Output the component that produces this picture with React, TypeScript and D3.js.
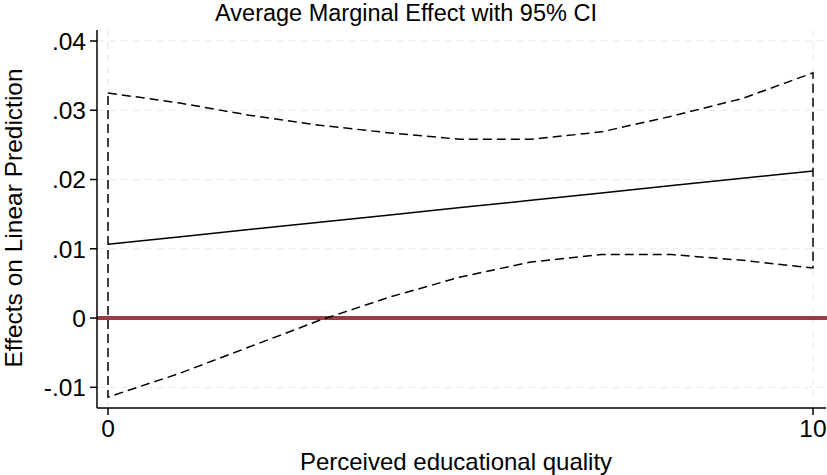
import * as d3 from "d3";

const xValues = [0, 1, 2, 3, 4, 5, 6, 7, 8, 9, 10];
const estimate = [0.01065, 0.01171, 0.01277, 0.01383, 0.01489, 0.01595, 0.017, 0.01806, 0.01912, 0.02018, 0.02124];
const upper = [0.0325, 0.03107, 0.02929, 0.02783, 0.02673, 0.0258, 0.0258, 0.02688, 0.02916, 0.0317, 0.0354];
const lower = [-0.01142, -0.00804, -0.00419, -0.00033, 0.00304, 0.00593, 0.00809, 0.00916, 0.00916, 0.00834, 0.00723];
const yTicks = [-0.01, 0, 0.01, 0.02, 0.03, 0.04];
const xTicks = [0, 10];

const W = 827;
const H = 475;
const font = "Arial, 'Liberation Sans', Helvetica, sans-serif";

const fmtY = (v: number) => {
  if (v === 0) return "0";
  const s = String(+v.toFixed(2));
  return s.replace("0.", ".");
};

export default function App() {
  const left = 97;
  const right = 826;
  const top = 30;
  const bottom = 408;

  const x = d3.scaleLinear().domain([0, 10]).range([108, 813]);
  const y = d3.scaleLinear().domain([-0.01, 0.04]).range([387.3, 41]);

  const line = d3
    .line<number>()
    .x((_d, i) => x(xValues[i]))
    .y((d) => y(d));

  // CI outline: upper band, down the right edge, back along the lower band
  const ciPts: [number, number][] = [
    ...upper.map((v, i) => [x(xValues[i]), y(v)] as [number, number]),
    ...lower
      .map((v, i) => [x(xValues[i]), y(v)] as [number, number])
      .reverse(),
  ];
  const ciPath = d3.line()(ciPts) + "Z";

  return (
    <svg
      width={W}
      height={H}
      style={{ position: "absolute", left: 0, top: 0, background: "#fff" }}
      fontFamily={font}
    >
      {/* grid */}
      {yTicks.map((t) => (
        <line
          key={"gy" + t}
          x1={left}
          x2={right}
          y1={y(t)}
          y2={y(t)}
          stroke="#e8e8e8"
          strokeWidth={1}
          strokeDasharray="7,5"
        />
      ))}
      {xTicks.map((t) => (
        <line
          key={"gx" + t}
          x1={x(t)}
          x2={x(t)}
          y1={top}
          y2={bottom}
          stroke="#e8e8e8"
          strokeWidth={1}
          strokeDasharray="7,5"
        />
      ))}

      {/* zero reference line */}
      <line
        x1={left}
        x2={W}
        y1={y(0)}
        y2={y(0)}
        stroke="#993d44"
        strokeWidth={4}
      />

      {/* confidence band */}
      <path
        d={ciPath}
        fill="none"
        stroke="#000"
        strokeWidth={1.5}
        strokeDasharray="9,5"
      />

      {/* estimate */}
      <path d={line(estimate) ?? ""} fill="none" stroke="#000" strokeWidth={1.5} />

      {/* axes */}
      <line x1={left} x2={left} y1={top} y2={bottom} stroke="#000" strokeWidth={1.5} />
      <line x1={left} x2={right} y1={bottom} y2={bottom} stroke="#000" strokeWidth={1.5} />
      {yTicks.map((t) => (
        <g key={"ty" + t}>
          <line x1={left - 7} x2={left} y1={y(t)} y2={y(t)} stroke="#000" strokeWidth={1.5} />
          <text
            x={86}
            y={y(t)}
            dy="0.36em"
            textAnchor="end"
            fontSize={24.5}
            fill="#000"
          >
            {fmtY(t)}
          </text>
        </g>
      ))}
      {xTicks.map((t) => (
        <g key={"tx" + t}>
          <line x1={x(t)} x2={x(t)} y1={bottom} y2={bottom + 7} stroke="#000" strokeWidth={1.5} />
          <text x={x(t)} y={437} textAnchor="middle" fontSize={24.5} fill="#000">
            {t}
          </text>
        </g>
      ))}

      {/* titles */}
      <text x={406} y={21} textAnchor="middle" fontSize={23.5} fill="#000">
        Average Marginal Effect with 95% CI
      </text>
      <text x={456} y={470} textAnchor="middle" fontSize={24} fill="#000">
        Perceived educational quality
      </text>
      <text
        transform={`translate(22, 218) rotate(-90)`}
        textAnchor="middle"
        fontSize={24.5}
        fill="#000"
      >
        Effects on Linear Prediction
      </text>
    </svg>
  );
}
